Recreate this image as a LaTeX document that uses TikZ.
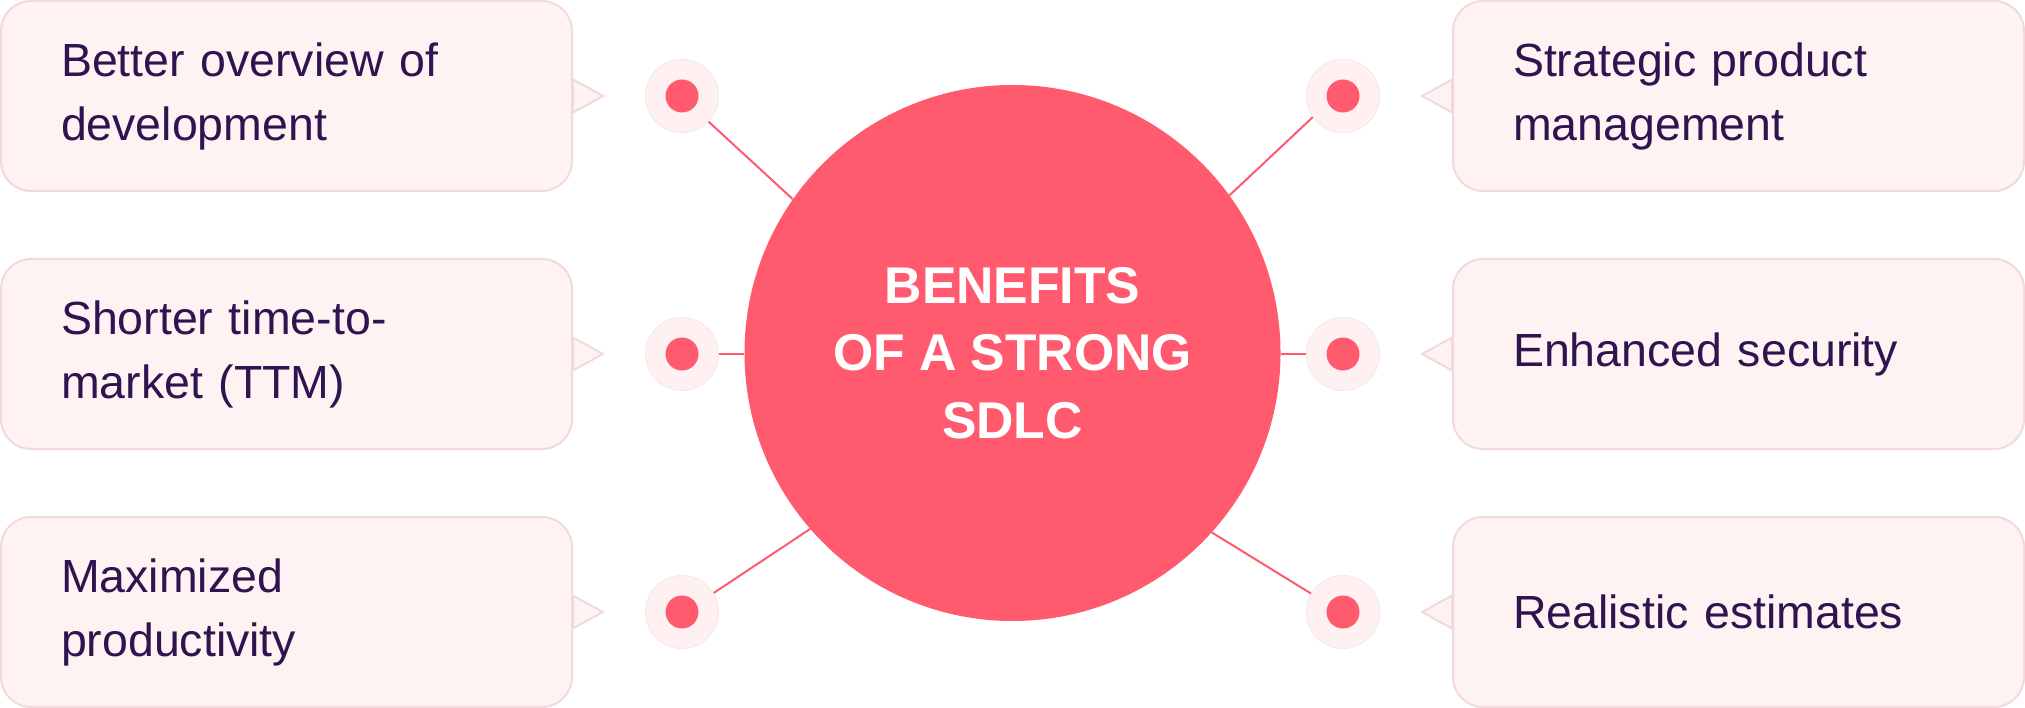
\documentclass[tikz,border=0pt]{standalone}
\usepackage{fontspec}
\setmainfont{Liberation Sans}
\usepackage{xcolor}
\usetikzlibrary{positioning,backgrounds}

\definecolor{hubred}{HTML}{FF5A6E}
\definecolor{boxfill}{HTML}{FFF2F3}
\definecolor{boxline}{HTML}{F0DADB}
\definecolor{dotfill}{HTML}{FFF1F2}
\definecolor{ink}{HTML}{2D1650}

\begin{document}
\begin{tikzpicture}[x=1pt,y=-1pt,node distance=72pt,
	benefit/.style={draw=boxline,fill=boxfill,line width=2pt,rounded corners=30pt,
		minimum width=571pt,minimum height=190pt,text width=451pt,inner xsep=60pt,
		align=left,text=ink,font=\fontsize{46.5}{64}\selectfont},
	hub/.style={circle,fill=hubred,minimum size=536pt,inner sep=0pt,text=white,
		align=center,font=\bfseries\fontsize{51.7}{67.5}\selectfont},
	dot/.style={circle,fill=dotfill,draw=boxline!60,line width=1pt,minimum size=73pt,inner sep=0pt},
	core/.style={circle,fill=hubred,minimum size=33pt,inner sep=0pt},
	pin/.style={draw=boxline,fill=boxfill,line width=2pt,line join=miter},
	link/.style={draw=hubred,line width=2pt}]
	\useasboundingbox (0,0) rectangle (2025,708);

	% The centre circle
	\node[hub] (hub) at (1012.5,353) {BENEFITS\\OF A STRONG\\SDLC};

	% Left column of benefits
	\node[benefit] (b1) at (286.5,96) {Better overview of\\development};
	\node[benefit] (b2) at (286.5,354) {Shorter time-to-\\market (TTM)};
	\node[benefit] (b3) at (286.5,612) {Maximized\\productivity};

	% Right column of benefits
	\node[benefit] (b4) at (1738.5,96) {Strategic product\\management};
	\node[benefit] (b5) at (1738.5,354) {Enhanced security};
	\node[benefit] (b6) at (1738.5,612) {Realistic estimates};

	% Now the dots next to each box
	\node[dot] (d1) [right=of b1] {};
	\node[dot] (d2) [right=of b2] {};
	\node[dot] (d3) [right=of b3] {};
	\node[dot] (d4) [left=of b4] {};
	\node[dot] (d5) [left=of b5] {};
	\node[dot] (d6) [left=of b6] {};
	\foreach \d in {d1,d2,d3,d4,d5,d6}
		\node[core] (\d c) at (\d) {};

	% Pointers of the boxes, behind the box borders
	\begin{scope}[on background layer]
		\foreach \b in {b1,b2,b3}
			\path[pin] (\b.east) ++(0,-16.5) -- ++(30,16.5) -- ++(-30,16.5) -- cycle;
		\foreach \b in {b4,b5,b6}
			\path[pin] (\b.west) ++(0,-16.5) -- ++(-30,16.5) -- ++(30,16.5) -- cycle;
	\end{scope}

	% Draw an edge between each dot and the hub
	\path[link] (d1.316) -- (hub.145);
	\path[link] (d2.east) -- (d2.east -| hub.west);
	\path[link] (d3.31) -- (hub.221);
	\path[link] (d4.215) -- (hub.36.5);
	\path[link] (d5.west) -- (d5.west -| hub.east);
	\path[link] (d6.150) -- (hub.318.5);
\end{tikzpicture}
\end{document}
